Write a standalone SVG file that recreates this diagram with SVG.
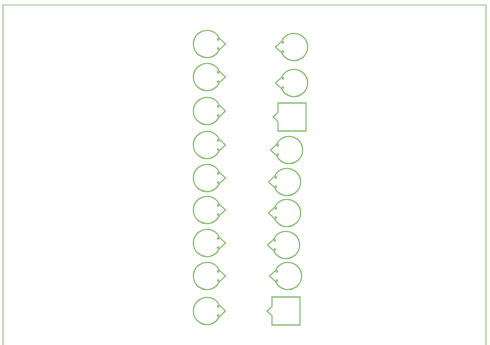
<svg xmlns="http://www.w3.org/2000/svg" xmlns:xlink="http://www.w3.org/1999/xlink" width="490" height="345" viewBox="0 0 490 345">
<style>
.frame{fill:none;stroke:#9cc48c;stroke-width:1.2}
.shape{fill:#ffffff;stroke:#8cc07a;stroke-width:1.3}
.dot{fill:#8cc07a}
</style>
<defs>
<g id="bubbleR">
<path class="shape" d="M 12.2,-5.9 A 13.6 13.6 0 1 0 12.2,5.9 L 18.5,0 Z"/>
<circle class="dot" cx="11.2" cy="-4.6" r="1.3"/>
<circle class="dot" cx="11.2" cy="4.6" r="1.3"/>
</g>
<g id="bubbleL">
<path class="shape" d="M -12.2,-5.9 A 13.6 13.6 0 1 1 -12.2,5.9 L -18.5,0 Z"/>
<circle class="dot" cx="-11.2" cy="-4.6" r="1.3"/>
<circle class="dot" cx="-11.2" cy="4.6" r="1.3"/>
</g>
<g id="boxL">
<path class="shape" d="M 0,-14 H 28 V 14 H 0 V 4.5 L -5,0 L 0,-4.5 Z"/>
</g>
</defs>
<rect x="0" y="0" width="490" height="345" fill="#ffffff"/>
<path class="frame" d="M 3,345 V 5 H 486 V 345"/>
<g id="connectors"/>
<g id="left1"><use xlink:href="#bubbleR" x="207" y="44"/></g>
<g id="left2"><use xlink:href="#bubbleR" x="207" y="77"/></g>
<g id="left3"><use xlink:href="#bubbleR" x="207" y="111"/></g>
<g id="left4"><use xlink:href="#bubbleR" x="207" y="145"/></g>
<g id="left5"><use xlink:href="#bubbleR" x="207" y="178"/></g>
<g id="left6"><use xlink:href="#bubbleR" x="207" y="210"/></g>
<g id="left7"><use xlink:href="#bubbleR" x="207" y="243"/></g>
<g id="left8"><use xlink:href="#bubbleR" x="207" y="276"/></g>
<g id="left9"><use xlink:href="#bubbleR" x="207" y="311"/></g>
<g id="right1"><use xlink:href="#bubbleL" x="294" y="47"/></g>
<g id="right2"><use xlink:href="#bubbleL" x="294" y="83"/></g>
<g id="right3"><use xlink:href="#boxL" x="278" y="117"/></g>
<g id="right4"><use xlink:href="#bubbleL" x="289" y="150"/></g>
<g id="right5"><use xlink:href="#bubbleL" x="287" y="182"/></g>
<g id="right6"><use xlink:href="#bubbleL" x="287" y="213"/></g>
<g id="right7"><use xlink:href="#bubbleL" x="286" y="245"/></g>
<g id="right8"><use xlink:href="#bubbleL" x="288" y="276"/></g>
<g id="right9"><use xlink:href="#boxL" x="272" y="311"/></g>
</svg>
